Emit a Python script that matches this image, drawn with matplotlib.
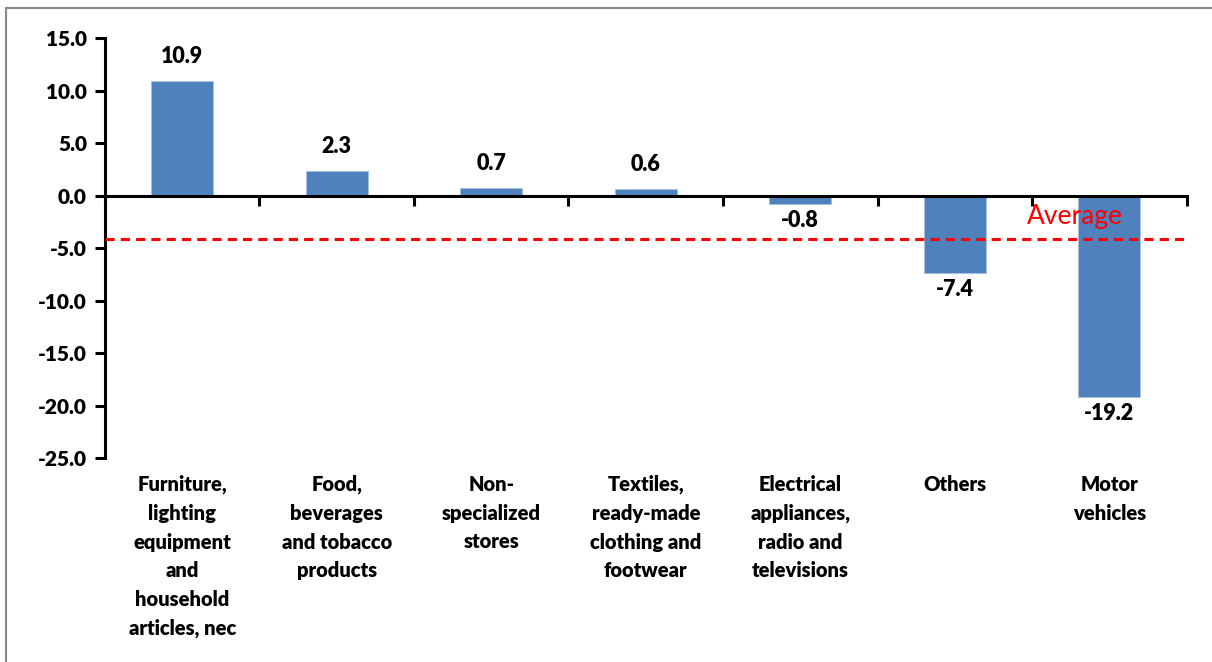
import numpy as np
import matplotlib.pyplot as plt
from matplotlib.patches import Rectangle

plt.rcParams['font.family'] = ['Lato', 'DejaVu Sans']

# --- data ---
categories = [
    "Furniture,\nlighting\nequipment\nand\nhousehold\narticles, nec",
    "Food,\nbeverages\nand tobacco\nproducts",
    "Non-\nspecialized\nstores",
    "Textiles,\nready-made\nclothing and\nfootwear",
    "Electrical\nappliances,\nradio and\ntelevisions",
    "Others",
    "Motor\nvehicles",
]
values = [10.9, 2.3, 0.7, 0.6, -0.8, -7.4, -19.2]
average = -4.1
yticks = [15, 10, 5, 0, -5, -10, -15, -20, -25]

BAR_COLOR = "#4F81BD"
W = "heavy"

fig = plt.figure(figsize=(12.12, 6.62), dpi=100)
ax = fig.add_axes([0.0866, 0.308, 0.8924, 0.6346])

# chart border (frame of the embedded chart)
fig.add_artist(Rectangle((6 / 1212, -0.1), 1.2, 1 - 8 / 662 + 0.1,
                         transform=fig.transFigure, fill=False,
                         edgecolor="#888888", linewidth=1.5))

x = np.arange(len(values))
ax.bar(x, values, width=0.4, color=BAR_COLOR, edgecolor="#A7BFDE", linewidth=0.6, zorder=2)

ax.set_xlim(-0.5, len(values) - 0.5)
ax.set_ylim(-25, 15)

# axes styling
for s in ["top", "right"]:
    ax.spines[s].set_visible(False)
ax.spines["bottom"].set_position(("data", 0))
ax.spines["bottom"].set_linewidth(2.2)
ax.spines["left"].set_linewidth(2.2)
ax.spines["bottom"].set_zorder(3)

ax.set_yticks(yticks)
ax.set_yticklabels([f"{v:.1f}" for v in yticks], fontsize=15, fontweight=W)
ax.tick_params(axis="y", length=7, width=2.2, pad=6)

ax.set_xticks(np.arange(len(values) + 1) - 0.5)
ax.set_xticklabels([])
ax.tick_params(axis="x", length=7, width=2.2, direction="out")

# category labels below the plot
for xi, lab in zip(x, categories):
    ax.text(xi, -0.04, lab, transform=ax.get_xaxis_transform(), ha="center", va="top",
            fontsize=14.5, fontweight=W, linespacing=1.6)

# value labels
for xi, v in zip(x, values):
    off = 18 if v >= 0 else -12
    ax.annotate(f"{v:.1f}", (xi, v), xytext=(0, off), textcoords="offset points",
                ha="center", va="center", fontsize=15.5, fontweight=W)

# average line
ax.axhline(average, color="#FF0000", linestyle=(0, (3, 2)), linewidth=2.2, zorder=4)
ax.text(5.47, -1.95, "Average", color="#FF0000", fontsize=19, ha="left", va="center", zorder=5)

fig.savefig("out.png", dpi=100)
